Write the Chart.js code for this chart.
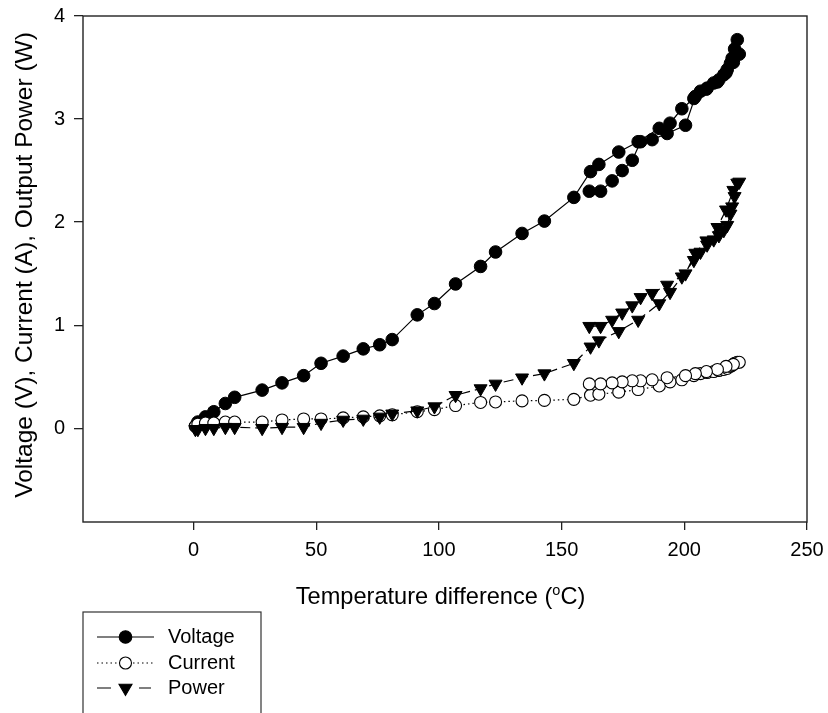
<!DOCTYPE html>
<html>
<head>
<meta charset="utf-8">
<script src="https://cdn.jsdelivr.net/npm/chart.js@4.4.1/dist/chart.umd.min.js"></script>
<style>
html,body{margin:0;padding:0;background:#fff;}
#wrap{width:828px;height:713px;position:relative;overflow:hidden;}
</style>
</head>
<body>
<div id="wrap"><canvas id="c" width="828" height="713"></canvas></div>
<script>
// ---- data ----
// Temperature difference (°C): heating run, then cooling run
const tempDiff = [
  0.8, 1.8, 4.9, 8.3, 13.0, 16.8, 28.0, 36.1, 44.9, 52.0, 61.0, 69.2, 75.9, 81.0,
  91.2, 98.2, 106.8, 117.0, 123.1, 133.9, 143.0, 155.0,
  161.8, 165.2, 173.3, 181.2, 189.8, 194.2, 199.0, 203.9,
  206.6, 209.3, 212.0, 214.1, 216.1, 217.5, 218.8, 219.5, 220.5, 221.6,
  222.4, 220.0, 217.0, 213.5, 209.0, 204.5, 200.5, 193.0, 186.9, 182.2,
  178.8, 174.7, 170.6, 165.9, 161.3
];
const voltage = [
  0.02, 0.06, 0.11, 0.16, 0.24, 0.30, 0.37, 0.44, 0.51, 0.63, 0.70, 0.77, 0.81, 0.86,
  1.10, 1.21, 1.40, 1.57, 1.71, 1.89, 2.01, 2.24,
  2.49, 2.56, 2.68, 2.78, 2.91, 2.96, 3.10, 3.20,
  3.27, 3.30, 3.35, 3.38, 3.43, 3.48, 3.54, 3.59, 3.68, 3.77,
  3.63, 3.55, 3.45, 3.36, 3.29, 3.22, 2.94, 2.86, 2.80, 2.78,
  2.60, 2.50, 2.40, 2.30, 2.30
];
const current = [
  0.02, 0.04, 0.05, 0.05, 0.06, 0.06, 0.06, 0.08, 0.09, 0.09, 0.10, 0.11, 0.12, 0.13,
  0.16, 0.18, 0.22, 0.25, 0.255, 0.265, 0.27, 0.28,
  0.32, 0.33, 0.35, 0.375, 0.41, 0.45, 0.47, 0.51,
  0.53, 0.54, 0.55, 0.56, 0.57, 0.58, 0.60, 0.61, 0.63, 0.64,
  0.64, 0.62, 0.60, 0.57, 0.55, 0.53, 0.51, 0.49, 0.47, 0.46,
  0.46, 0.45, 0.44, 0.43, 0.43
];
const power = [
  -0.01, -0.01, 0.00, 0.00, 0.01, 0.01, 0.00, 0.01, 0.01, 0.05, 0.08, 0.09, 0.11, 0.14,
  0.17, 0.21, 0.32, 0.385, 0.43, 0.49, 0.53, 0.63,
  0.79, 0.85, 0.94, 1.05, 1.21, 1.32, 1.47, 1.63,
  1.71, 1.78, 1.83, 1.87, 1.92, 1.97, 2.08, 2.15, 2.25, 2.38,
  2.39, 2.31, 2.12, 1.95, 1.82, 1.70, 1.50, 1.39, 1.31, 1.27,
  1.19, 1.12, 1.05, 0.99, 0.99
];
const xTicks = [0, 50, 100, 150, 200, 250];
const yTicks = [0, 1, 2, 3, 4];
const seriesNames = ['Voltage', 'Current', 'Power'];
const xTitleMain = 'Temperature difference (';
const xTitleSup = 'o';
const xTitleEnd = 'C)';
const yTitle = 'Voltage (V), Current (A), Output Power (W)';

// ---- chart ----
const FONT = '"Liberation Sans", Arial, Helvetica, sans-serif';
const pts = ys => tempDiff.map((x, i) => ({ x: x, y: ys[i] }));

const styles = [
  { dash: [], fill: '#000', shape: 'circle', r: 6.3 },
  { dash: [1.5, 3], fill: '#fff', shape: 'circle', r: 6.0 },
  { dash: [10, 5], fill: '#000', shape: 'triangle', r: 7.5 }
];

function drawMarker(ctx, shape, x, y, r, fill) {
  ctx.save();
  ctx.setLineDash([]);
  ctx.beginPath();
  if (shape === 'circle') {
    ctx.arc(x, y, r, 0, Math.PI * 2);
  } else {
    const a = Math.PI;
    for (let k = 0; k < 3; k++) {
      const ang = a + k * 2 * Math.PI / 3;
      const px = x + Math.sin(ang) * r, py = y - Math.cos(ang) * r;
      if (k === 0) ctx.moveTo(px, py); else ctx.lineTo(px, py);
    }
    ctx.closePath();
  }
  ctx.fillStyle = fill;
  ctx.fill();
  ctx.lineWidth = 1.1;
  ctx.strokeStyle = '#000';
  ctx.stroke();
  ctx.restore();
}

const extras = {
  id: 'extras',
  afterDraw(chart) {
    const ctx = chart.ctx;
    const a = chart.chartArea;
    ctx.save();
    // frame
    ctx.strokeStyle = '#222';
    ctx.lineWidth = 1.4;
    ctx.setLineDash([]);
    ctx.strokeRect(a.left, a.top, a.right - a.left, a.bottom - a.top);

    ctx.fillStyle = '#000';
    // y axis title
    ctx.save();
    ctx.translate(25, 265);
    ctx.rotate(-Math.PI / 2);
    ctx.font = '24.5px ' + FONT;
    ctx.textAlign = 'center';
    ctx.textBaseline = 'middle';
    ctx.fillText(yTitle, 0, 0);
    ctx.restore();

    // x axis title with superscript
    ctx.textBaseline = 'alphabetic';
    ctx.textAlign = 'left';
    const big = '23.6px ' + FONT, small = '14.5px ' + FONT;
    ctx.font = big; const w1 = ctx.measureText(xTitleMain).width;
    const w3 = ctx.measureText(xTitleEnd).width;
    ctx.font = small; const w2 = ctx.measureText(xTitleSup).width;
    const total = w1 + w2 + w3;
    const cx = 440.5, by = 604;
    const x0 = cx - total / 2;
    ctx.font = big; ctx.fillText(xTitleMain, x0, by);
    ctx.font = small; ctx.fillText(xTitleSup, x0 + w1, by - 9.5);
    ctx.font = big; ctx.fillText(xTitleEnd, x0 + w1 + w2, by);

    // legend box
    ctx.strokeStyle = '#333';
    ctx.lineWidth = 1.2;
    ctx.strokeRect(83, 612, 178, 130);
    const rows = [637, 663, 688];
    ctx.font = '20px ' + FONT;
    ctx.textBaseline = 'middle';
    seriesNames.forEach((name, i) => {
      const y = rows[i], st = styles[i];
      ctx.strokeStyle = '#000';
      ctx.lineWidth = 1.2;
      if (i === 0) {
        ctx.setLineDash([]);
        ctx.beginPath(); ctx.moveTo(97, y); ctx.lineTo(154, y); ctx.stroke();
      } else if (i === 1) {
        ctx.setLineDash([1.5, 3]);
        ctx.beginPath(); ctx.moveTo(97, y); ctx.lineTo(154, y); ctx.stroke();
      } else {
        ctx.setLineDash([]);
        ctx.beginPath(); ctx.moveTo(97, y); ctx.lineTo(111, y);
        ctx.moveTo(139, y); ctx.lineTo(151, y); ctx.stroke();
      }
      drawMarker(ctx, st.shape, 125.5, y, st.r, st.fill);
      ctx.fillStyle = '#000';
      ctx.fillText(name, 168, y);
    });
    ctx.restore();
  }
};

const tickFont = { family: FONT, size: 20 };
const noPad = s => { s.paddingTop = 0; s.paddingBottom = 0; s.paddingLeft = 0; s.paddingRight = 0; };

new Chart(document.getElementById('c'), {
  type: 'scatter',
  data: {
    datasets: [
      { label: seriesNames[0], data: pts(voltage), showLine: true, order: 3,
        borderColor: '#000', borderWidth: 1.2, borderDash: styles[0].dash,
        pointStyle: 'circle', pointRadius: styles[0].r, pointBackgroundColor: '#000',
        pointBorderColor: '#000', pointBorderWidth: 1 },
      { label: seriesNames[1], data: pts(current), showLine: true, order: 2,
        borderColor: '#000', borderWidth: 1.2, borderDash: styles[1].dash,
        pointStyle: 'circle', pointRadius: styles[1].r, pointBackgroundColor: '#fff',
        pointBorderColor: '#000', pointBorderWidth: 1.1 },
      { label: seriesNames[2], data: pts(power), showLine: true, order: 1,
        borderColor: '#000', borderWidth: 1.2, borderDash: styles[2].dash,
        pointStyle: 'triangle', pointRotation: 180, pointRadius: styles[2].r,
        pointBackgroundColor: '#000', pointBorderColor: '#000', pointBorderWidth: 1 }
    ]
  },
  options: {
    responsive: false,
    devicePixelRatio: 1,
    animation: false,
    events: [],
    layout: { padding: { top: 16, right: 21, left: 0, bottom: 0 } },
    plugins: { legend: { display: false }, tooltip: { enabled: false } },
    elements: { line: { tension: 0 } },
    scales: {
      x: {
        type: 'linear', min: -45, max: 250,
        afterBuildTicks: s => { s.ticks = xTicks.map(v => ({ value: v })); },
        afterFit: s => { s.height = 191; noPad(s); },
        grid: { drawOnChartArea: false, drawTicks: true, tickLength: 8, color: '#222', lineWidth: 1.3 },
        border: { display: false },
        ticks: { color: '#000', font: tickFont, padding: 8.3, maxRotation: 0 }
      },
      y: {
        type: 'linear', min: -0.91, max: 4,
        afterBuildTicks: s => { s.ticks = yTicks.map(v => ({ value: v })); },
        afterFit: s => { s.width = 83; noPad(s); },
        grid: { drawOnChartArea: false, drawTicks: true, tickLength: 9, color: '#222', lineWidth: 1.3 },
        border: { display: false },
        ticks: { color: '#000', font: tickFont, padding: 9 }
      }
    }
  },
  plugins: [extras]
});
</script>
</body>
</html>
